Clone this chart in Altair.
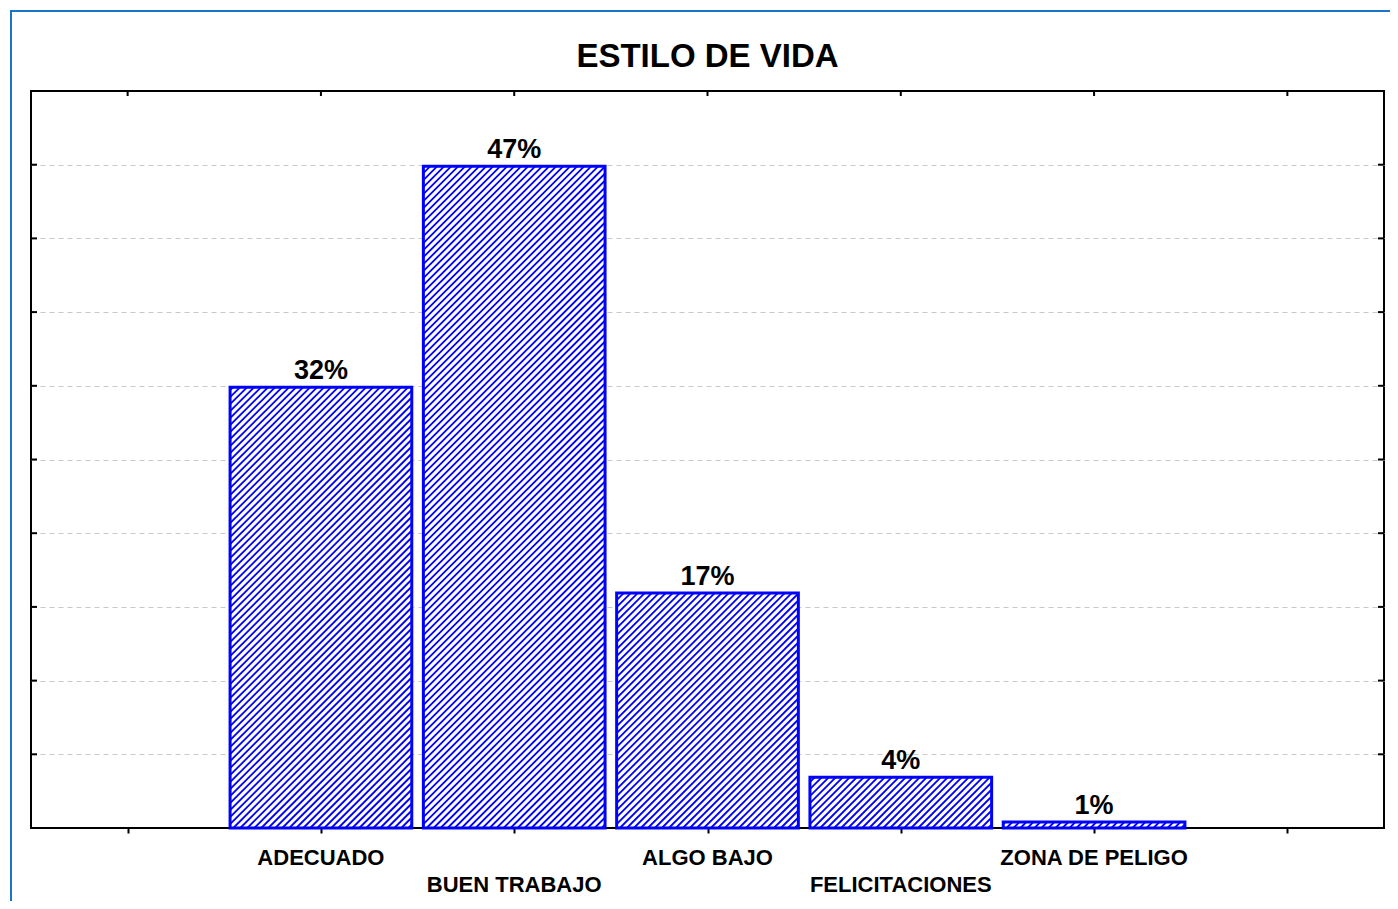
import altair as alt
import pandas as pd

# ---- data ----
categories = ["ADECUADO", "BUEN TRABAJO", "ALGO BAJO", "FELICITACIONES", "ZONA DE PELIGO"]
heights = [5.98, 8.98, 3.19, 0.69, 0.08]          # bar heights on the (unlabelled) y scale 0-10
pct_labels = ["32%", "47%", "17%", "4%", "1%"]
title_text = "ESTILO DE VIDA"
n_slots = 7          # one empty slot at each end of the category axis
y_max = 10
grid_values = list(range(1, 10))

# ---- layout ----
W, H = 1353, 737
BAR_HALF = 0.47
BLUE = "#0000FF"
FONT = "Liberation Sans"

xs = alt.Scale(domain=[0, n_slots], nice=False, zero=False)
ys = alt.Scale(domain=[0, y_max], nice=False, zero=False)

rows = []
for i, (c, h, p) in enumerate(zip(categories, heights, pct_labels)):
    pos = i + 1.5
    rows.append({"cat": c, "pos": pos, "x0": pos - BAR_HALF, "x1": pos + BAR_HALF,
                 "h": h, "pct": p, "row": i % 2})
bars = pd.DataFrame(rows)

# hatch lines "/" inside each bar, derived from bar extents
px_x = W / n_slots
px_y = H / y_max
step = 7.0
hatch = []
for r in rows:
    w = (r["x1"] - r["x0"]) * px_x
    hh = r["h"] * px_y
    c = -w + step / 2
    while c < hh:
        u0 = max(0.0, -c)
        u1 = min(w, hh - c)
        if u1 > u0:
            hatch.append({"hx0": r["x0"] + u0 / px_x, "hy0": (u0 + c) / px_y,
                          "hx1": r["x0"] + u1 / px_x, "hy1": (u1 + c) / px_y})
        c += step
hatch = pd.DataFrame(hatch)

tick_pos = pd.DataFrame({"tp": [i + 0.5 for i in range(n_slots)]})
ytick = pd.DataFrame({"yt": grid_values})

base_bars = alt.Chart(bars)

fill = base_bars.mark_rect(fill="white", strokeWidth=0).encode(
    x=alt.X("x0:Q", scale=xs,
            axis=alt.Axis(values=[i + 0.5 for i in range(n_slots)], labels=False, title=None,
                          domain=False, grid=False, ticks=True, tickSize=5, tickWidth=2,
                          tickColor="black")),
    x2="x1:Q",
    y=alt.Y("h:Q", scale=ys,
            axis=alt.Axis(values=grid_values, labels=False, ticks=False, domain=False, title=None,
                          grid=True, gridDash=[5, 4], gridColor="#c8c8c8", gridWidth=1)),
    y2=alt.datum(0),
)

hatch_layer = alt.Chart(hatch).mark_rule(color=BLUE, strokeWidth=1.8).encode(
    x=alt.X("hx0:Q", scale=xs),
    x2="hx1:Q",
    y=alt.Y("hy0:Q", scale=ys),
    y2="hy1:Q",
)

outline = base_bars.mark_rect(fillOpacity=0, fill="white", stroke=BLUE, strokeWidth=3).encode(
    x=alt.X("x0:Q", scale=xs),
    x2="x1:Q",
    y=alt.Y("h:Q", scale=ys),
    y2=alt.datum(0),
)

pct = base_bars.mark_text(font=FONT, fontSize=27, fontWeight="bold", color="black",
                          baseline="alphabetic", dy=-8).encode(
    x=alt.X("pos:Q", scale=xs),
    y=alt.Y("h:Q", scale=ys),
    text="pct:N",
)

lab1 = base_bars.transform_filter("datum.row == 0").mark_text(
    font=FONT, fontSize=22, fontWeight="bold", color="black", baseline="middle").encode(
    x=alt.X("pos:Q", scale=xs), y=alt.value(H + 30), text="cat:N")
lab2 = base_bars.transform_filter("datum.row == 1").mark_text(
    font=FONT, fontSize=22, fontWeight="bold", color="black", baseline="middle").encode(
    x=alt.X("pos:Q", scale=xs), y=alt.value(H + 57), text="cat:N")

top_ticks = alt.Chart(tick_pos).mark_rule(color="black", strokeWidth=2).encode(
    x=alt.X("tp:Q", scale=xs), y=alt.value(0), y2=alt.value(5))
left_ticks = alt.Chart(ytick).mark_rule(color="black", strokeWidth=2).encode(
    y=alt.Y("yt:Q", scale=ys), x=alt.value(0), x2=alt.value(6))
right_ticks = alt.Chart(ytick).mark_rule(color="black", strokeWidth=2).encode(
    y=alt.Y("yt:Q", scale=ys), x=alt.value(W - 6), x2=alt.value(W))

title = alt.Chart(alt.Data(values=[{"t": title_text}])).mark_text(
    font=FONT, fontSize=33, fontWeight="bold", color="black", baseline="alphabetic",
    align="center").encode(x=alt.value(W / 2), y=alt.value(-24), text="t:N")

frame = alt.Chart(alt.Data(values=[{"f": 1}])).mark_rect(
    fillOpacity=0, fill="white", stroke="#1a75c9", strokeWidth=2).encode(
    x=alt.value(-20), x2=alt.value(W + 60), y=alt.value(-80), y2=alt.value(H + 120))

chart = alt.layer(
    fill, frame, hatch_layer, outline, pct, lab1, lab2, top_ticks, left_ticks, right_ticks, title
).properties(
    width=W, height=H,
    background="white",
    autosize=alt.AutoSizeParams(type="none"),
    padding={"left": 23, "top": 83, "right": 6, "bottom": 73},
).configure_view(stroke="black", strokeWidth=2)

chart.save("out.html", embed_options={"renderer": "svg", "actions": False})
